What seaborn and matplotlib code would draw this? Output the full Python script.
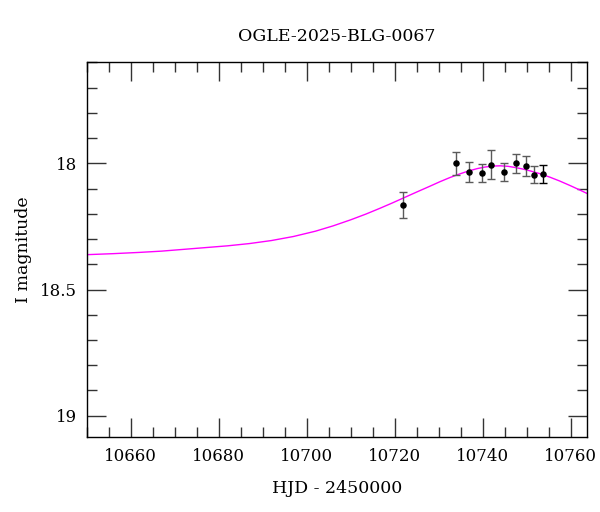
import matplotlib
matplotlib.use("Agg")
import matplotlib.pyplot as plt
import seaborn as sns
import numpy as np
import pandas as pd
from matplotlib.ticker import MultipleLocator

# Observed data (HJD - 2450000, I magnitude, error)
hjd = [10721.8, 10733.9, 10736.8, 10739.8, 10741.9, 10744.8, 10747.7, 10749.8, 10751.8, 10753.7]
mag = [18.165, 18.000, 18.035, 18.038, 18.006, 18.034, 18.000, 18.011, 18.045, 18.042]
err = [0.051, 0.045, 0.040, 0.036, 0.057, 0.036, 0.038, 0.040, 0.035, 0.037]
err_colors = ["#5a5a5a"] * 9 + ["#000000"]

# Model curve
model_t = [10650.0, 10656.0, 10662.0, 10667.0, 10672.0, 10677.0, 10682.0, 10687.0, 10692.0,
           10697.0, 10702.0, 10706.0, 10710.0, 10713.5, 10716.7, 10719.5, 10721.8, 10725.0,
           10728.0, 10730.3, 10732.5, 10734.5, 10736.7, 10738.8, 10740.5, 10742.3, 10744.0,
           10745.8, 10747.5, 10749.2, 10751.0, 10753.0, 10755.3, 10757.5, 10760.0, 10762.0,
           10763.8]
model_m = [18.362, 18.358, 18.353, 18.348, 18.341, 18.334, 18.327, 18.318, 18.306,
           18.290, 18.269, 18.248, 18.224, 18.201, 18.178, 18.157, 18.139, 18.114,
           18.091, 18.073, 18.057, 18.044, 18.031, 18.021, 18.015, 18.011, 18.010,
           18.012, 18.017, 18.023, 18.031, 18.041, 18.055, 18.070, 18.089, 18.105,
           18.120]

title = "OGLE-2025-BLG-0067"
xlabel = "HJD - 2450000"
ylabel = "I magnitude"

sns.set_theme(style="ticks")
plt.rcParams["font.family"] = ["DejaVu Serif"]
plt.rcParams["mathtext.fontset"] = "dejavuserif"

fig = plt.figure(figsize=(6.0, 5.12), dpi=100)
ax = fig.add_axes([0.1445, 0.1471, 0.8343, 0.7312])

df_model = pd.DataFrame({"t": model_t, "m": model_m})
sns.lineplot(data=df_model, x="t", y="m", sort=False, color="#ff00ff", linewidth=1.0, ax=ax)

for t, m, e, c in zip(hjd, mag, err, err_colors):
    ax.errorbar(t, m, yerr=e, fmt="none", ecolor=c, elinewidth=1.0, capsize=3.0, capthick=1.0, zorder=3)
df_pts = pd.DataFrame({"t": hjd, "m": mag})
sns.scatterplot(data=df_pts, x="t", y="m", color="black", s=22, edgecolor="black", linewidth=0, ax=ax, zorder=4)

ax.set_xlim(10650, 10763.8)
ax.set_ylim(19.083, 17.6)

ax.xaxis.set_major_locator(MultipleLocator(20))
ax.xaxis.set_minor_locator(MultipleLocator(5))
ax.yaxis.set_major_locator(MultipleLocator(0.5))
ax.yaxis.set_minor_locator(MultipleLocator(0.1))
ax.yaxis.set_major_formatter(matplotlib.ticker.FuncFormatter(lambda v, p: f"{v:g}"))

ax.tick_params(which="both", direction="in", top=True, right=True, color="#333333", width=1.0,
               labelsize=12, labelcolor="black")
ax.tick_params(which="major", length=13.7)
ax.tick_params(which="minor", length=7.2)
ax.tick_params(axis="x", which="major", pad=8)
ax.tick_params(axis="y", which="major", pad=7)

for sp in ax.spines.values():
    sp.set_color("black")
    sp.set_linewidth(1.0)

ax.set_title(title, fontsize=12.5, pad=15, color="black")
ax.set_xlabel(xlabel, fontsize=12.5, labelpad=11, color="black")
ax.set_ylabel(ylabel, fontsize=12.5, labelpad=6, color="black")

fig.savefig("out.png", dpi=100)
